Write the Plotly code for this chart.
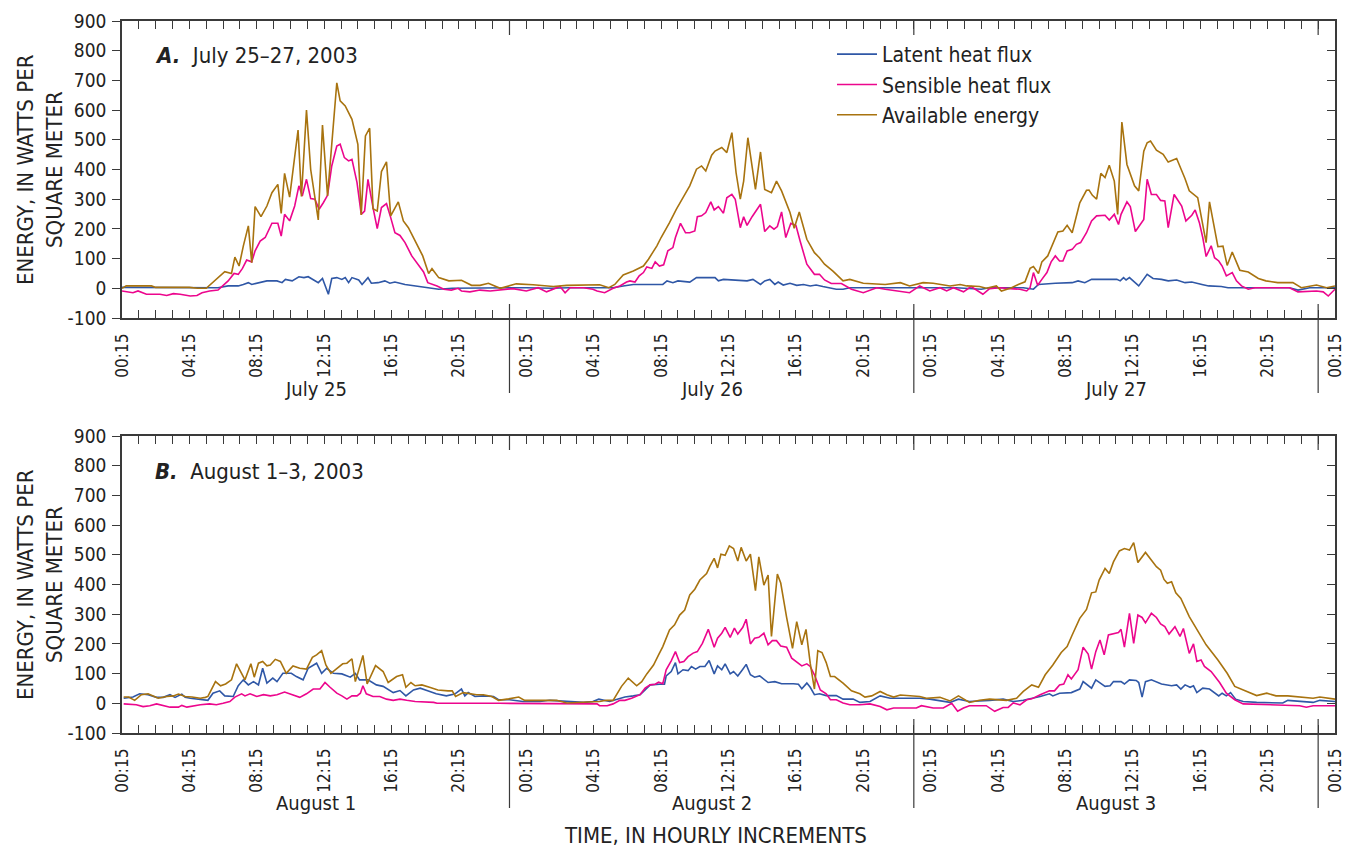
import plotly.graph_objects as go

# ---------------- DATA (hours after 00:15 of first day, W/m^2) ----------------
hour_ticks = list(range(0, 73))
hour_labels = ["00:15", "04:15", "08:15", "12:15", "16:15", "20:15"]
y_ticks = [-100, 0, 100, 200, 300, 400, 500, 600, 700, 800, 900]
y_tick_text = ["-100", "0", "100", "200", "300", "400", "500", "600", "700", "800", "900"]
day_names_a = ["July 25", "July 26", "July 27"]
day_names_b = ["August 1", "August 2", "August 3"]
day_sep_hours = [23, 47, 71]
day_centers = [11.5, 35, 59]

jul_latent = [(0, 3), (1.5, 3), (3, 2), (4.5, 2), (5.7, 2), (6.3, 8), (6.9, 8), (7.2, 13), (7.5, 19), (7.7, 13), (8.1, 19),
    (8.6, 25), (9.2, 25), (9.5, 19), (9.7, 30), (10.1, 25), (10.5, 39), (10.8, 36), (11.05, 39), (11.35, 28), (11.65, 19),
    (11.9, 33), (12.05, 10), (12.25, -20), (12.45, 33), (12.75, 36), (13.05, 30), (13.25, 36), (13.45, 19), (13.65, 36),
    (14.05, 28), (14.25, 13), (14.6, 36), (14.8, 17), (15.2, 19), (15.6, 25), (15.9, 17), (16.2, 21), (16.8, 13), (17.4, 8),
    (18, 2), (18.8, -3), (19.6, 0), (21.25, 2), (22.4, 2), (23.2, 2), (24, 2), (25.5, 0), (26.5, 2), (27.4, 2), (28.6, 0),
    (29.15, 2), (29.75, 8), (30.35, 13), (32.1, 13), (32.35, 25), (32.7, 19), (33, 25), (33.7, 21), (34.1, 36), (35.2, 36),
    (35.4, 25), (35.7, 30), (36.5, 28), (37.1, 25), (37.45, 30), (37.9, 13), (38.15, 25), (38.45, 30), (38.75, 13),
    (38.95, 21), (39.25, 11), (39.65, 17), (40.05, 10), (40.45, 13), (40.85, 8), (41.2, 11), (41.6, 6), (42.4, -3),
    (42.8, -3), (43.2, 2), (44.4, 2), (45.3, 2), (46.2, 2), (47.5, 2), (48.5, 2), (49.5, 2), (51, -3), (51.5, 2), (52.5, 2),
    (53.5, 2), (54.1, -3), (54.4, 13), (55.4, 17), (56.4, 19), (56.75, 25), (57.15, 19), (57.55, 30), (59.05, 30),
    (59.25, 25), (59.45, 36), (59.6, 28), (59.8, 36), (60.35, 8), (60.85, 47), (61.2, 33), (61.7, 30), (62.1, 25),
    (62.6, 28), (63.1, 19), (63.5, 21), (64.1, 13), (64.5, 8), (65.25, 6), (65.65, 2), (67, 2), (69.3, 2), (69.8, -6),
    (70.5, 2), (72, 2)]

jul_sensible = [(0, -9), (0.65, -15), (0.95, -9), (1.45, -20), (2.25, -20), (2.65, -24), (3.05, -18), (3.45, -20),
    (4.05, -26), (4.45, -24), (4.75, -15), (5.2, -9), (5.7, -6), (6.0, 8), (6.3, 25), (6.65, 50), (6.9, 47), (7.15, 67),
    (7.4, 95), (7.7, 89), (7.9, 126), (8.2, 159), (8.5, 171), (8.9, 219), (9.25, 219), (9.45, 176), (9.65, 249),
    (9.95, 227), (10.25, 277), (10.5, 345), (10.7, 311), (10.95, 367), (11.2, 302), (11.45, 300), (11.7, 266),
    (11.95, 288), (12.2, 313), (12.45, 412), (12.75, 479), (12.95, 485), (13.2, 440), (13.45, 429), (13.65, 434),
    (13.95, 356), (14.2, 249), (14.4, 260), (14.6, 367), (14.9, 272), (15.15, 201), (15.4, 272), (15.7, 285),
    (15.95, 238), (16.2, 187), (16.5, 178), (16.8, 154), (17.2, 109), (17.6, 77), (17.9, 55), (18.15, 19), (18.7, 8),
    (19.1, -3), (19.55, -6), (19.95, 0), (20.15, -9), (20.65, -12), (21.25, -6), (21.85, -9), (22.45, -6), (23.2, -1),
    (24, -9), (24.7, 2), (25.2, -12), (26, 6), (26.3, -15), (26.6, 2), (27.4, 2), (27.95, -3), (28.2, -9), (28.65, -15),
    (29.15, 0), (29.55, 8), (29.95, 21), (30.15, 25), (30.45, 21), (30.7, 42), (30.95, 53), (31.15, 72), (31.45, 67),
    (31.65, 89), (31.9, 75), (32.15, 79), (32.4, 126), (32.7, 137), (32.85, 171), (33.15, 219), (33.45, 187),
    (33.7, 187), (34, 193), (34.15, 241), (34.4, 244), (34.65, 255), (34.95, 291), (35.15, 264), (35.4, 275),
    (35.7, 253), (35.9, 305), (36.2, 316), (36.4, 300), (36.7, 204), (36.9, 241), (37.1, 212), (37.4, 241), (37.65, 264),
    (37.9, 283), (38.15, 191), (38.45, 210), (38.7, 199), (38.9, 208), (39.15, 257), (39.4, 171), (39.7, 219), (40, 212),
    (40.25, 159), (40.65, 81), (41.1, 47), (41.4, 47), (41.7, 28), (42.1, 16), (42.7, 16), (43.3, -3), (44, -15),
    (44.8, 2), (45.3, -3), (46.2, -9), (46.75, -15), (47.35, 8), (47.95, -9), (48.55, 2), (48.95, -9), (49.35, 2),
    (49.95, -12), (50.4, 6), (51.1, -20), (51.5, -1), (52.1, 2), (52.7, -1), (53.3, -3), (53.7, -9), (53.9, 2), (54.1, 53),
    (54.35, 10), (54.6, 30), (54.9, 53), (55.15, 89), (55.4, 109), (55.65, 92), (55.85, 92), (56.1, 126), (56.4, 131),
    (56.65, 148), (56.9, 154), (57.25, 187), (57.55, 227), (57.85, 244), (58.35, 246), (58.6, 230), (58.9, 249),
    (59.15, 215), (59.3, 249), (59.65, 291), (59.85, 275), (60.15, 191), (60.65, 232), (60.85, 367), (61.1, 316),
    (61.4, 316), (61.65, 296), (61.9, 294), (62.1, 204), (62.45, 316), (62.7, 294), (62.9, 277), (63.15, 227),
    (63.5, 246), (63.7, 264), (63.95, 221), (64.15, 171), (64.35, 107), (64.65, 143), (64.85, 103), (65.1, 92),
    (65.3, 75), (65.55, 42), (65.9, 53), (66.15, 25), (66.45, 8), (66.85, -3), (67.25, 2), (69.3, 2), (69.8, -12),
    (70.9, -9), (71.3, -12), (71.6, -26), (72, -3)]

jul_available = [(0, 0), (0.25, 8), (1.75, 8), (2, 3), (4, 3), (4.5, 0), (5, 0), (5.5, 25), (6.1, 56), (6.5, 50),
    (6.7, 105), (6.95, 75), (7.2, 142), (7.5, 210), (7.7, 86), (7.9, 275), (8.25, 241), (8.6, 277), (8.9, 322),
    (9.25, 350), (9.45, 252), (9.65, 387), (9.95, 307), (10.45, 533), (10.65, 309), (10.95, 600), (11.2, 400),
    (11.65, 230), (11.9, 550), (12.2, 311), (12.75, 692), (12.95, 631), (13.25, 614), (13.65, 569), (14, 485),
    (14.2, 247), (14.45, 513), (14.7, 539), (14.9, 268), (15.15, 260), (15.4, 393), (15.7, 426), (15.95, 244),
    (16.4, 291), (16.7, 227), (17, 204), (17.4, 159), (17.85, 109), (18.2, 50), (18.4, 66), (18.8, 36), (19.4, 25),
    (20.15, 27), (20.75, 10), (21.25, 10), (21.75, 17), (22.45, 0), (23.4, 15), (24.4, 12), (25.6, 6), (26.4, 10),
    (27.4, 12), (28.35, 12), (28.9, 2), (29.25, 13), (29.75, 45), (30.35, 58), (30.95, 75), (31.25, 98), (31.75, 143),
    (32, 171), (32.5, 221), (32.9, 266), (33.3, 305), (33.7, 345), (34.1, 401), (34.4, 412), (34.65, 395), (35, 448),
    (35.2, 462), (35.6, 474), (35.9, 457), (36.2, 524), (36.45, 389), (36.7, 300), (36.9, 361), (37.15, 507),
    (37.6, 333), (37.9, 459), (38.15, 333), (38.55, 322), (38.85, 361), (39.15, 328), (39.65, 255), (39.9, 202),
    (40.2, 257), (40.65, 165), (41.1, 120), (41.4, 103), (41.7, 81), (42.2, 58), (42.8, 25), (43.2, 30), (44, 17),
    (45.3, 13), (46.2, 19), (46.75, 8), (47.55, 19), (48.15, 17), (49.15, 8), (49.75, 13), (50.15, 8), (50.9, 6),
    (51.3, 0), (51.9, 8), (52.2, -9), (52.8, 2), (53.2, 13), (53.6, 22), (53.9, 67), (54.1, 73), (54.4, 50), (54.6, 89),
    (54.95, 109), (55.25, 148), (55.55, 190), (55.85, 193), (56.1, 212), (56.4, 187), (56.85, 288), (57.25, 330),
    (57.4, 331), (57.6, 313), (57.85, 300), (58.1, 387), (58.35, 373), (58.6, 414), (58.9, 361), (59.1, 249),
    (59.35, 560), (59.65, 417), (60.1, 345), (60.35, 328), (60.65, 462), (60.85, 490), (61.05, 496), (61.4, 465),
    (61.8, 451), (62.1, 425), (62.6, 437), (63.1, 369), (63.35, 328), (63.85, 305), (64.35, 154), (64.55, 291),
    (65.05, 140), (65.35, 142), (65.6, 77), (65.9, 122), (66.35, 61), (66.85, 55), (67.45, 33), (67.9, 25), (68.6, 19),
    (69.5, 19), (70, 2), (70.9, 11), (71.5, 2), (72, 8)]

aug_latent = [(0.1, 17), (0.65, 21), (1.05, 32), (1.55, 29), (2.05, 20), (2.45, 20), (2.85, 29), (3.15, 20), (3.55, 31),
    (3.75, 20), (4.05, 17), (4.75, 14), (5.1, 10), (5.4, 34), (5.8, 42), (6.1, 25), (6.6, 23), (6.9, 59), (7.2, 79),
    (7.5, 62), (7.8, 73), (8.1, 62), (8.35, 118), (8.6, 68), (8.95, 85), (9.2, 73), (9.55, 101), (10.05, 101),
    (10.35, 90), (10.75, 79), (11.05, 118), (11.55, 135), (11.85, 101), (12.15, 118), (12.55, 101), (13.05, 99),
    (13.55, 88), (13.85, 101), (14.1, 79), (14.6, 79), (15.1, 62), (15.5, 57), (16.1, 36), (16.5, 43), (16.85, 25),
    (17.3, 45), (17.7, 51), (18.1, 43), (18.65, 32), (19.25, 25), (19.75, 31), (20.15, 48), (20.35, 25), (20.55, 36),
    (20.95, 23), (21.45, 25), (22.05, 23), (22.35, 12), (23, 12), (23.8, 6), (24.8, 6), (25.4, 10), (26.4, 6), (27.4, 3),
    (27.95, 6), (28.3, 14), (28.95, 6), (29.35, 12), (29.85, 21), (30.35, 25), (30.75, 29), (31.05, 45), (31.35, 62),
    (31.9, 64), (32.2, 64), (32.3, 92), (32.6, 107), (32.85, 137), (33, 99), (33.3, 113), (33.6, 110), (33.8, 124),
    (34.05, 115), (34.3, 124), (34.6, 124), (34.85, 144), (35.15, 99), (35.35, 126), (35.6, 113), (35.8, 133), (36.1, 99),
    (36.3, 107), (36.55, 92), (36.85, 115), (37.05, 131), (37.3, 96), (37.55, 88), (37.85, 92), (38.1, 82), (38.35, 70),
    (38.75, 73), (39.15, 66), (39.85, 66), (40.15, 64), (40.35, 49), (40.65, 68), (40.85, 54), (41.1, 29), (41.4, 32),
    (41.8, 26), (42.4, 26), (42.8, 14), (43.4, 14), (43.8, 3), (44.4, 6), (45, 25), (45.6, 17), (46.2, 17), (47.35, 17),
    (47.95, 14), (49.15, 3), (49.65, 14), (50.3, 6), (51.5, 10), (52.3, 14), (52.9, 6), (53.5, 10), (54.5, 23),
    (55.05, 32), (55.25, 25), (55.65, 34), (56.35, 36), (56.85, 48), (57.05, 73), (57.35, 59), (57.55, 51), (57.8, 79),
    (58.05, 70), (58.35, 57), (58.65, 59), (58.85, 73), (59.3, 73), (59.5, 65), (59.8, 79), (60.2, 77), (60.35, 70),
    (60.55, 21), (60.75, 73), (61.1, 79), (61.7, 65), (62.3, 59), (62.6, 62), (62.85, 48), (63.1, 62), (63.4, 54),
    (63.6, 59), (63.8, 36), (64.15, 51), (64.55, 48), (65.1, 25), (65.3, 34), (65.55, 25), (65.8, 36), (66.1, 14),
    (66.55, 6), (67.35, 3), (68.3, 3), (68.9, 1), (69.2, 10), (69.9, 6), (70.7, 3), (71.1, 10), (72, 6)]

aug_sensible = [(0.1, -2), (0.85, -5), (1.25, -11), (1.65, -8), (2.05, -2), (2.45, -8), (2.85, -13), (3.35, -13),
    (3.55, -7), (3.85, -13), (4.25, -8), (4.65, -5), (5.2, -2), (5.6, -5), (6, 0), (6.4, 6), (6.7, 21), (7.1, 32),
    (7.3, 25), (7.6, 32), (8, 23), (8.4, 29), (8.8, 25), (9.2, 29), (9.65, 38), (10.15, 29), (10.55, 20), (10.95, 32),
    (11.35, 48), (11.75, 48), (12.05, 70), (12.35, 54), (12.75, 34), (13.05, 25), (13.35, 14), (13.65, 25), (13.95, 25),
    (14.15, 34), (14.3, 59), (14.5, 32), (14.9, 23), (15.3, 23), (15.7, 14), (16.1, 10), (16.5, 14), (16.9, 10),
    (17.4, 6), (18.5, 3), (18.7, 0), (22.4, 0), (28, 0), (28.2, -2), (28.35, -8), (28.8, -8), (29.15, -2), (29.55, 10),
    (29.85, 10), (30.25, 17), (30.75, 29), (31.05, 51), (31.35, 62), (31.65, 64), (31.85, 71), (32.1, 66), (32.3, 113),
    (32.6, 143), (32.85, 174), (33.1, 137), (33.35, 141), (33.6, 157), (33.9, 169), (34.15, 174), (34.45, 202),
    (34.8, 249), (35.15, 189), (35.35, 219), (35.6, 236), (35.8, 256), (36.1, 222), (36.35, 253), (36.55, 233),
    (36.85, 256), (37.05, 283), (37.3, 200), (37.55, 219), (37.8, 222), (38.1, 236), (38.35, 197), (38.6, 211),
    (38.85, 211), (39.1, 193), (39.45, 189), (39.75, 152), (40.05, 138), (40.35, 126), (40.65, 133), (40.85, 124),
    (41.1, 96), (41.45, 45), (41.8, 32), (42.05, 12), (42.4, 12), (42.8, 1), (43.2, -5), (43.8, -5), (44.4, -2),
    (45, -11), (45.4, -22), (45.8, -16), (47.15, -16), (47.45, -8), (48.15, -16), (48.75, -16), (49.25, 0), (49.6, -27),
    (49.95, -16), (50.3, -8), (51.3, -8), (51.8, -27), (52.3, -14), (52.6, -14), (52.9, 1), (53.3, -5), (53.7, 12),
    (54, 15), (54.5, 29), (54.75, 34), (55.05, 42), (55.35, 42), (55.65, 62), (55.9, 65), (56.15, 96), (56.35, 82),
    (56.75, 113), (57.05, 189), (57.35, 166), (57.55, 115), (57.8, 174), (58.05, 213), (58.3, 163), (58.55, 230),
    (58.85, 233), (59.15, 238), (59.3, 249), (59.5, 189), (59.8, 303), (60.05, 202), (60.3, 297), (60.55, 289),
    (60.75, 271), (61.1, 303), (61.4, 289), (61.65, 267), (61.9, 258), (62.15, 233), (62.5, 258), (62.8, 225),
    (63, 252), (63.35, 168), (63.6, 200), (63.8, 141), (64.05, 146), (64.25, 124), (64.65, 107), (65.15, 70),
    (65.55, 34), (66.05, 12), (66.55, -2), (69.1, -5), (69.9, -8), (70.3, -13), (70.7, -8), (72, -8)]

aug_available = [(0.1, 21), (0.4, 21), (0.75, 10), (1.15, 29), (1.55, 32), (2.15, 17), (2.65, 23), (3.05, 25),
    (3.35, 31), (3.75, 23), (4.15, 21), (4.65, 17), (4.95, 20), (5.1, 23), (5.55, 73), (5.85, 59), (6.15, 65),
    (6.5, 79), (6.8, 133), (7.3, 79), (7.65, 133), (7.85, 88), (8.1, 135), (8.35, 141), (8.6, 126), (8.8, 129),
    (9.1, 148), (9.4, 141), (9.75, 101), (10.15, 126), (10.55, 118), (10.95, 115), (11.3, 155), (11.55, 163),
    (11.85, 177), (12.1, 129), (12.4, 101), (12.7, 115), (13.1, 133), (13.35, 135), (13.65, 150), (13.85, 73),
    (14.1, 126), (14.3, 161), (14.55, 65), (15.05, 127), (15.5, 107), (15.8, 70), (16.3, 90), (16.65, 96), (16.85, 54),
    (17.15, 70), (17.4, 59), (17.8, 62), (18.3, 53), (18.75, 45), (19.35, 42), (19.6, 42), (19.8, 23), (20.25, 36),
    (21.05, 29), (21.45, 29), (21.95, 23), (22.35, 10), (22.95, 15), (23.55, 21), (23.9, 10), (24.6, 10), (25.8, 10),
    (26.4, 1), (27.95, 3), (28.35, 6), (28.75, 10), (29.15, 10), (29.65, 57), (30.05, 85), (30.55, 59), (30.85, 73),
    (31.15, 99), (31.55, 129), (31.85, 163), (32.1, 191), (32.5, 247), (32.8, 264), (33.1, 297), (33.4, 314),
    (33.7, 365), (34, 384), (34.3, 415), (34.7, 437), (34.9, 462), (35.15, 488), (35.35, 456), (35.55, 502),
    (35.8, 498), (36.05, 530), (36.3, 521), (36.55, 479), (36.75, 525), (37.05, 479), (37.3, 502), (37.6, 379),
    (37.8, 493), (38.1, 398), (38.35, 432), (38.55, 225), (38.9, 435), (39.1, 405), (39.45, 289), (39.8, 185),
    (40.05, 275), (40.35, 197), (40.6, 249), (40.85, 135), (41.1, 48), (41.3, 177), (41.55, 171), (41.8, 137),
    (42.05, 90), (42.3, 90), (42.8, 68), (43.3, 42), (43.8, 32), (44.1, 21), (44.5, 25), (45, 40), (45.4, 29),
    (45.8, 21), (46.2, 28), (46.75, 25), (47.35, 23), (47.75, 17), (48.55, 20), (49.15, 8), (49.65, 25), (50.3, 3),
    (50.9, 10), (51.5, 14), (52.5, 10), (53.1, 17), (53.5, 40), (54, 62), (54.4, 54), (54.8, 96), (55.25, 129),
    (55.75, 171), (56.1, 191), (56.4, 230), (56.85, 286), (57.25, 316), (57.55, 372), (57.8, 375), (58, 415),
    (58.35, 454), (58.6, 437), (58.85, 476), (59.2, 513), (59.5, 521), (59.8, 516), (60.05, 541), (60.3, 474),
    (60.75, 508), (61, 488), (61.4, 460), (61.65, 448), (61.85, 417), (62.05, 404), (62.3, 409), (62.55, 372),
    (62.85, 353), (63.35, 292), (63.8, 247), (64.35, 197), (65.05, 146), (65.6, 101), (66.05, 57), (66.75, 40),
    (67.35, 26), (67.95, 34), (68.5, 25), (69.2, 25), (70.7, 17), (71.1, 21), (71.8, 14), (72, 14)]

series_names = ["Latent heat flux", "Sensible heat flux", "Available energy"]
series_colors = ["#2f57a6", "#ec068d", "#a8730f"]

# ---------------- LAYOUT CONSTANTS ----------------
W, H = 1346, 848
FONT = "Liberation Sans Narrow, Arial Narrow, DejaVu Sans Condensed, sans-serif"
AX = "#3a3a3a"
TXT = "#222"
xl, xr = 122 / W, 1335 / W
panels = [
    dict(top=21, bot=318, xa="x", ya="y", yr="y5", title_bold="A.", title="July 25–27, 2003",
         days=day_names_a, data=[jul_latent, jul_sensible, jul_available], ytitle=170, sep_low=393, daylab=389),
    dict(top=436, bot=733, xa="x2", ya="y2", yr="y6", title_bold="B.", title="August 1–3, 2003",
         days=day_names_b, data=[aug_latent, aug_sensible, aug_available], ytitle=585, sep_low=808, daylab=803),
]


def py(px):
    return 1 - px / H


fig = go.Figure()
tick_text = [hour_labels[(h // 4) % 6] if h % 4 == 0 else "" for h in hour_ticks]
annotations, shapes = [], []

for pi, p in enumerate(panels):
    for si, series in enumerate(p["data"]):
        xs = [pt[0] for pt in series]
        ys = [pt[1] for pt in series]
        fig.add_trace(go.Scatter(
            x=xs, y=ys, mode="lines", name=series_names[si], xaxis=p["xa"], yaxis=p["ya"],
            line=dict(color=series_colors[si], width=1.6), showlegend=(pi == 0),
            legendgroup=series_names[si], hoverinfo="skip"))
    # helper trace for right-side inward ticks
    fig.add_trace(go.Scatter(x=[None], y=[None], xaxis=p["xa"], yaxis=p["yr"], showlegend=False, hoverinfo="skip"))

    n = "" if pi == 0 else "2"
    dom_y = [py(p["bot"]), py(p["top"])]
    fig.layout["xaxis" + n] = dict(
        domain=[xl, xr], anchor=p["ya"], range=[0, 72], tickmode="array", tickvals=hour_ticks, ticktext=tick_text,
        tickangle=-90, ticks="inside", ticklen=8, tickwidth=1.2, tickcolor=AX, showline=True, linecolor=AX,
        linewidth=1.6, mirror="ticks", showgrid=False, zeroline=False, tickfont=dict(size=17, color=TXT),
        ticklabelstandoff=7, fixedrange=True, automargin=False)
    fig.layout["yaxis" + n] = dict(
        domain=dom_y, anchor=p["xa"], range=[-100, 900], tickmode="array", tickvals=y_ticks, ticktext=y_tick_text,
        ticks="outside", ticklen=8, tickwidth=1.2, tickcolor=AX, showline=True, linecolor=AX, linewidth=1.6,
        mirror=True, showgrid=False, zeroline=False, tickfont=dict(size=19, color=TXT), ticklabelstandoff=2,
        automargin=False)
    fig.layout["yaxis" + ("5" if pi == 0 else "6")] = dict(
        overlaying=p["ya"], anchor=p["xa"], side="right", range=[-100, 900], tickmode="array", tickvals=y_ticks,
        ticks="inside", ticklen=8, tickwidth=1.2, tickcolor=AX, showticklabels=False, showline=False,
        showgrid=False, zeroline=False, automargin=False)

    # day separators
    for hs in day_sep_hours:
        shapes.append(dict(type="line", xref=p["xa"], yref="paper", x0=hs, x1=hs,
                           y0=py(p["sep_low"]), y1=py(p["bot"] - 14), line=dict(color=AX, width=1.2)))
        shapes.append(dict(type="line", xref=p["xa"], yref="paper", x0=hs, x1=hs,
                           y0=py(p["top"] + 14), y1=py(p["top"]), line=dict(color=AX, width=1.2)))
    # day names
    for dn, dc in zip(p["days"], day_centers):
        annotations.append(dict(text=dn, xref=p["xa"], yref="paper", x=dc, y=py(p["daylab"]),
                                xanchor="center", yanchor="middle", showarrow=False,
                                font=dict(size=20, color=TXT, family=FONT)))
    # panel title
    annotations.append(dict(text="<b><i>" + p["title_bold"] + "</i></b>  " + p["title"], xref="paper",
                            yref="paper", x=153 / W, y=py(p["top"] + 35), xanchor="left", yanchor="middle",
                            showarrow=False, font=dict(size=22, color=TXT, family=FONT)))
    # y axis titles (two lines)
    for txt, xpx in [("ENERGY, IN WATTS PER", 25), ("SQUARE METER", 54)]:
        annotations.append(dict(text=txt, xref="paper", yref="paper", x=xpx / W, y=py(p["ytitle"]),
                                xanchor="center", yanchor="middle", textangle=-90, showarrow=False,
                                font=dict(size=22, color=TXT, family=FONT)))

annotations.append(dict(text="TIME, IN HOURLY INCREMENTS", xref="paper", yref="paper", x=715 / W, y=py(835),
                        xanchor="center", yanchor="middle", showarrow=False,
                        font=dict(size=22, color=TXT, family=FONT)))

fig.update_layout(
    template="none",
    width=W, height=H, margin=dict(l=0, r=0, t=0, b=0, pad=0, autoexpand=False),
    paper_bgcolor="white", plot_bgcolor="white",
    font=dict(family=FONT, color=TXT),
    showlegend=True,
    legend=dict(x=832 / W, y=py(34), xanchor="left", yanchor="top", bgcolor="rgba(0,0,0,0)",
                font=dict(size=21, color=TXT, family=FONT), tracegroupgap=0, itemwidth=40),
    annotations=annotations, shapes=shapes,
)

fig.write_html("out.html")
